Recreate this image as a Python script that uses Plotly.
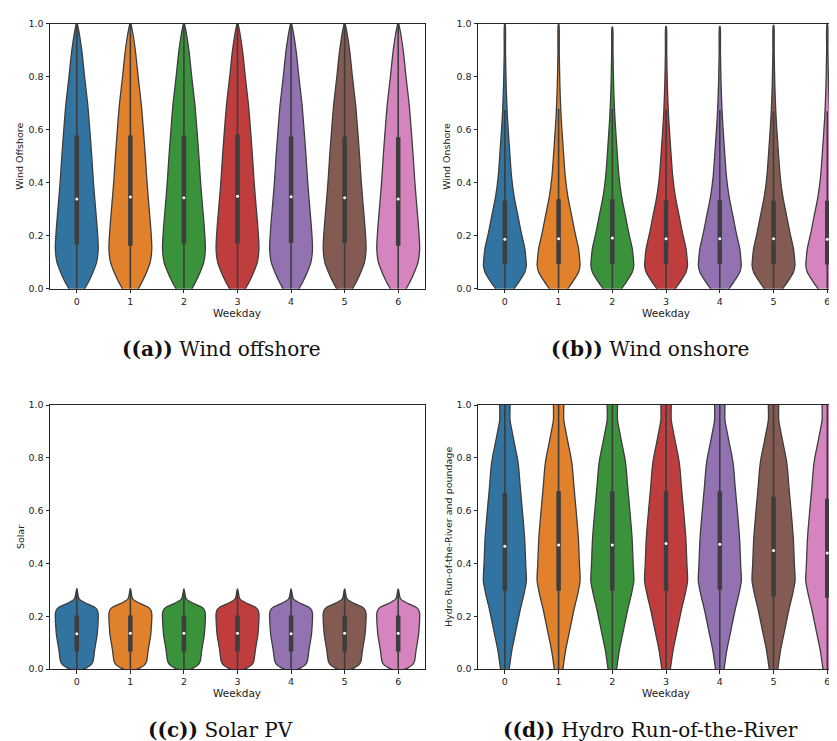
import plotly.graph_objects as go

# ---------------- data ----------------
WEEKDAYS = [0, 1, 2, 3, 4, 5, 6]
COLORS = ["#3274a1", "#e1812c", "#3a923a", "#c03d3e", "#9372b2", "#845b53", "#d684bd"]
Y_TICKS = [0.0, 0.2, 0.4, 0.6, 0.8, 1.0]
Y_TICK_LABELS = ["0.0", "0.2", "0.4", "0.6", "0.8", "1.0"]

# (a) Wind offshore: density profile (relative width) at value levels
A_LEVELS = [-0.06, -0.03, 0.0, 0.027, 0.064, 0.102, 0.151, 0.226, 0.300, 0.399,
            0.498, 0.597, 0.696, 0.796, 0.895, 0.957, 0.995, 1.01]
A_DENS = [0.0, 0.2, 0.37, 0.55, 0.76, 0.93, 1.0, 0.955, 0.88, 0.78,
          0.70, 0.61, 0.51, 0.37, 0.24, 0.13, 0.04, 0.0]
A_Q1 = [0.167, 0.163, 0.171, 0.171, 0.173, 0.173, 0.163]
A_MED = [0.339, 0.347, 0.344, 0.349, 0.348, 0.344, 0.339]
A_Q3 = [0.579, 0.579, 0.579, 0.582, 0.575, 0.574, 0.572]
A_WLO = [0.0] * 7
A_WHI = [1.0] * 7

# (b) Wind onshore
B_LEVELS = [-0.06, -0.03, 0.0, 0.027, 0.064, 0.09, 0.102, 0.151, 0.213, 0.275,
            0.349, 0.424, 0.523, 0.647, 0.77, 0.895]
B_DENS = [0.0, 0.22, 0.43, 0.66, 0.93, 1.0, 0.99, 0.93, 0.76, 0.61,
          0.43, 0.31, 0.22, 0.12, 0.06, 0.03]
B_MAX = [1.0, 1.0, 0.988, 0.99, 0.99, 0.995, 1.0]
B_Q1 = [0.094, 0.094, 0.094, 0.094, 0.094, 0.094, 0.092]
B_MED = [0.187, 0.189, 0.192, 0.189, 0.189, 0.189, 0.187]
B_Q3 = [0.332, 0.338, 0.338, 0.334, 0.334, 0.332, 0.332]
B_WLO = [0.0] * 7
B_WHI = [0.675, 0.68, 0.68, 0.675, 0.675, 0.67, 0.67]

# (c) Solar PV
C_LEVELS = [-0.01, -0.004, 0.005, 0.015, 0.03, 0.05, 0.07, 0.10, 0.13, 0.16,
            0.19, 0.21, 0.225, 0.235, 0.245, 0.255, 0.265, 0.275, 0.29, 0.305]
C_DENS = [0.0, 0.2, 0.45, 0.65, 0.76, 0.80, 0.83, 0.89, 0.95, 0.98,
          1.0, 1.0, 0.95, 0.82, 0.55, 0.3, 0.12, 0.07, 0.04, 0.0]
C_Q1 = [0.067] * 7
C_MED = [0.134, 0.136, 0.136, 0.136, 0.134, 0.136, 0.136]
C_Q3 = [0.203] * 7
C_WLO = [0.0] * 7
C_WHI = [0.305, 0.305, 0.30, 0.298, 0.30, 0.30, 0.30]

# (d) Hydro Run-of-the-River
D_LEVELS = [-0.08, -0.04, 0.0, 0.024, 0.073, 0.148, 0.223, 0.285, 0.335, 0.397,
            0.496, 0.596, 0.695, 0.757, 0.795, 0.857, 0.907, 0.944, 1.0, 1.05]
D_DENS = [0.05, 0.14, 0.2, 0.24, 0.33, 0.52, 0.71, 0.89, 1.0, 0.97,
          0.92, 0.82, 0.71, 0.65, 0.59, 0.44, 0.32, 0.24, 0.24, 0.22]
D_Q1 = [0.297, 0.297, 0.297, 0.297, 0.301, 0.275, 0.270]
D_MED = [0.465, 0.470, 0.470, 0.476, 0.473, 0.449, 0.440]
D_Q3 = [0.667, 0.674, 0.674, 0.674, 0.674, 0.653, 0.645]
D_WLO = [0.0] * 7
D_WHI = [1.0] * 7

Y_TITLES = ["Wind Offshore", "Wind Onshore", "Solar", "Hydro Run-of-the-River and poundage"]
CAPTIONS = ["<b>((a))</b> Wind offshore", "<b>((b))</b> Wind onshore",
            "<b>((c))</b> Solar PV", "<b>((d))</b> Hydro Run-of-the-River"]
X_TITLE = "Weekday"

# ---------------- layout helpers ----------------
W, H = 837, 741
GRAY = "#3d3d3d"
SPINE = "#262626"
HALF = 0.4  # half of violin width in category units


def fx(p):
    return p / W


def fy(p):
    return 1 - p / H


panels = [
    dict(lv=A_LEVELS, dn=A_DENS, top=None, q1=A_Q1, med=A_MED, q3=A_Q3, wlo=A_WLO, whi=A_WHI),
    dict(lv=B_LEVELS, dn=B_DENS, top=B_MAX, q1=B_Q1, med=B_MED, q3=B_Q3, wlo=B_WLO, whi=B_WHI),
    dict(lv=C_LEVELS, dn=C_DENS, top=None, q1=C_Q1, med=C_MED, q3=C_Q3, wlo=C_WLO, whi=C_WHI),
    dict(lv=D_LEVELS, dn=D_DENS, top=None, q1=D_Q1, med=D_MED, q3=D_Q3, wlo=D_WLO, whi=D_WHI),
]

# pixel geometry of each panel: (left, right, top, bottom, xmax, right spine)
geom = [
    (42, 417, 10, 279, 6.5, True),
    (470, 837, 10, 279, 6.33, False),
    (42, 417, 397, 665, 6.5, True),
    (470, 837, 397, 665, 6.33, False),
]

fig = go.Figure()

for i, p in enumerate(panels):
    xa = "x" if i == 0 else f"x{i+1}"
    ya = "y" if i == 0 else f"y{i+1}"
    for d in WEEKDAYS:
        lv = list(p["lv"])
        dn = list(p["dn"])
        if p["top"] is not None:
            lv = lv + [p["top"][d]]
            dn = dn + [0.012]
        left = [d - HALF * v for v in dn]
        right = [d + HALF * v for v in reversed(dn)]
        xs = left + right + [left[0]]
        ys = lv + list(reversed(lv)) + [lv[0]]
        fig.add_trace(go.Scatter(
            x=xs, y=ys, mode="lines", fill="toself", fillcolor=COLORS[d],
            line=dict(color=GRAY, width=1.3, shape="spline", smoothing=0.8),
            xaxis=xa, yaxis=ya, hoverinfo="skip", showlegend=False))
    # whiskers
    wx, wy = [], []
    bx, by = [], []
    for d in WEEKDAYS:
        wx += [d, d, None]
        wy += [p["wlo"][d], p["whi"][d], None]
        bx += [d, d, None]
        by += [p["q1"][d], p["q3"][d], None]
    fig.add_trace(go.Scatter(x=wx, y=wy, mode="lines", line=dict(color=GRAY, width=1.6),
                             xaxis=xa, yaxis=ya, hoverinfo="skip", showlegend=False))
    fig.add_trace(go.Scatter(x=bx, y=by, mode="lines", line=dict(color=GRAY, width=4.5),
                             xaxis=xa, yaxis=ya, hoverinfo="skip", showlegend=False))
    fig.add_trace(go.Scatter(x=WEEKDAYS, y=p["med"], mode="markers",
                             marker=dict(color="white", size=3, line=dict(width=0)),
                             xaxis=xa, yaxis=ya, hoverinfo="skip", showlegend=False))

layout = dict(
    width=W, height=H, margin=dict(l=0, r=0, t=0, b=0),
    paper_bgcolor="white", plot_bgcolor="white",
    font=dict(family="DejaVu Sans", color="#222222"),
)
annotations = []
for i, (l, r, t, b, xmax, rsp) in enumerate(geom):
    xk = "xaxis" if i == 0 else f"xaxis{i+1}"
    yk = "yaxis" if i == 0 else f"yaxis{i+1}"
    ya = "y" if i == 0 else f"y{i+1}"
    xa = "x" if i == 0 else f"x{i+1}"
    layout[xk] = dict(
        domain=[fx(l), fx(r)], range=[-0.5, xmax], anchor=ya,
        tickmode="array", tickvals=WEEKDAYS, ticktext=[str(d) for d in WEEKDAYS],
        ticks="outside", ticklen=3.5, tickwidth=1, tickcolor=SPINE,
        showline=True, linecolor=SPINE, linewidth=1, mirror=True,
        showgrid=False, zeroline=False, tickfont=dict(size=9.5, color="#222222"),
    )
    layout[yk] = dict(
        domain=[fy(b), fy(t)], range=[0, 1], anchor=xa,
        tickmode="array", tickvals=Y_TICKS, ticktext=Y_TICK_LABELS,
        ticks="outside", ticklen=3.5, tickwidth=1, tickcolor=SPINE,
        showline=True, linecolor=SPINE, linewidth=1, mirror=rsp,
        showgrid=False, zeroline=False, tickfont=dict(size=9.5, color="#222222"),
    )

# titles
ytitle_x = [12, 439, 12, 440]
xtitle_x = [229, 658, 229, 658]
row_mid = [145, 145, 531, 531]
xtitle_y = [303, 303, 689, 689]
cap_x = [213, 642, 212, 642]
cap_y = [340, 340, 727, 727]
for i in range(4):
    annotations.append(dict(text=Y_TITLES[i], x=fx(ytitle_x[i]), y=fy(row_mid[i]),
                            xref="paper", yref="paper", showarrow=False, textangle=-90,
                            xanchor="center", yanchor="middle",
                            font=dict(size=9.5, family="DejaVu Sans", color="#222222")))
    annotations.append(dict(text=X_TITLE, x=fx(xtitle_x[i]), y=fy(xtitle_y[i]),
                            xref="paper", yref="paper", showarrow=False,
                            xanchor="center", yanchor="middle",
                            font=dict(size=10.5, family="DejaVu Sans", color="#222222")))
    annotations.append(dict(text=CAPTIONS[i], x=fx(cap_x[i]), y=fy(cap_y[i]),
                            xref="paper", yref="paper", showarrow=False,
                            xanchor="center", yanchor="middle",
                            font=dict(size=20, family="DejaVu Serif", color="#111111")))
layout["annotations"] = annotations
fig.update_layout(**layout)
fig.write_html("out.html")
